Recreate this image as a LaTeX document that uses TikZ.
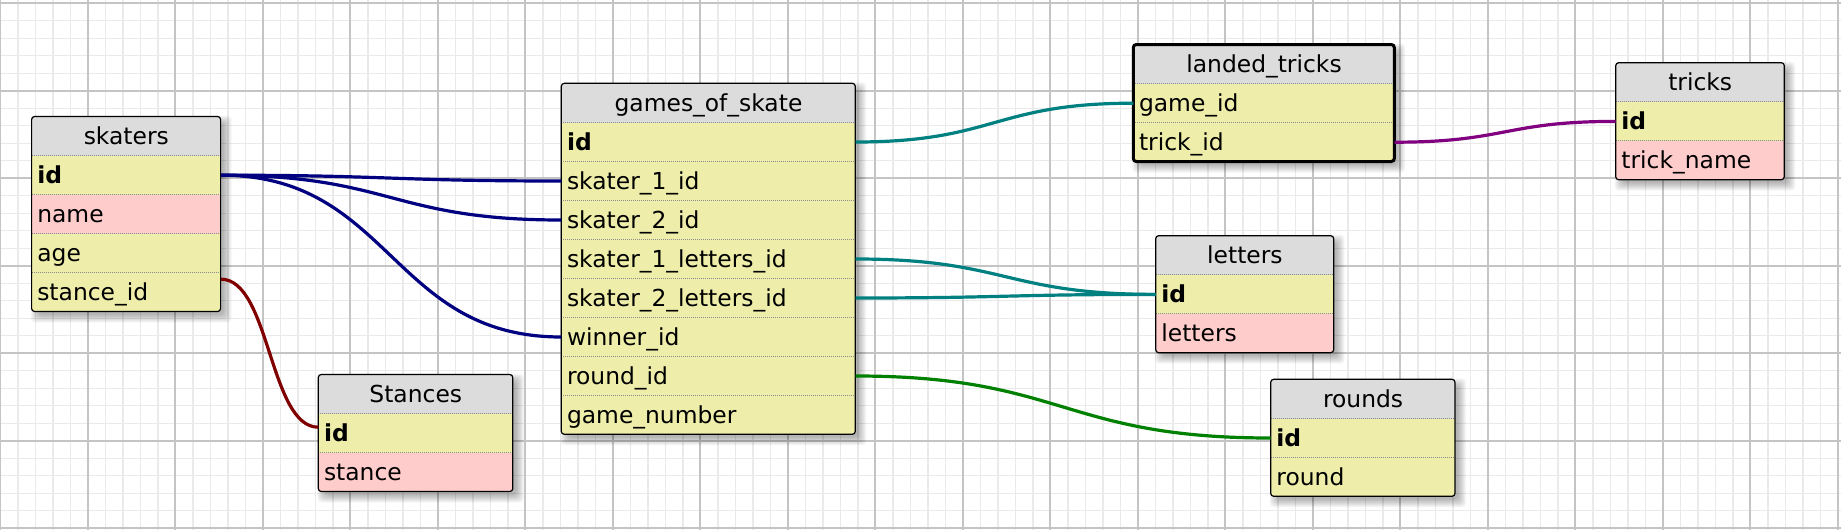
\documentclass[tikz,border=0pt]{standalone}
\usepackage{fontspec}
\setmainfont{DejaVu Sans}
\definecolor{hdrgray}{HTML}{DCDCDC}
\definecolor{yel}{HTML}{EEEEAA}
\definecolor{pnk}{HTML}{FFCCCC}
\definecolor{gridminor}{HTML}{EAEAEA}
\definecolor{gridmajor}{HTML}{C4C4C4}
\definecolor{sepgray}{HTML}{8C8C8C}
\definecolor{cnavy}{HTML}{000080}
\definecolor{cteal}{HTML}{008080}
\definecolor{cgreen}{HTML}{008000}
\definecolor{cpurple}{HTML}{800080}
\definecolor{cred}{HTML}{800000}
\tikzset{
  cell/.style={anchor=north west, inner xsep=5.5pt, inner ysep=0pt, minimum height=39pt,
    text height=19.5pt, text depth=2.5pt, font=\fontsize{23.4}{27}\selectfont},
  hdr/.style={cell, fill=hdrgray, align=center},
  fld/.style={cell, align=left},
  sep/.style={sepgray, line width=0.9pt, dash pattern=on 1pt off 1pt},
  tabline/.style={black, line width=1.2pt},
  tabthick/.style={black, line width=3pt},
  link/.style={line width=3.2pt},
  gminor/.style={gridminor, line width=1.4pt},
  gmajor/.style={gridmajor, line width=2pt},
}
% #1 border style, #2 name, #3 x, #4 y, #5 width, #6 rows incl. header, #7 title, #8 fields
\newcommand{\dbtab}[8][tabline]{%
  \pgfmathsetmacro{\tH}{39*#6}%
  \pgfmathsetmacro{\tW}{#5-11}%
  \foreach \ee in {-2,...,6}{\fill[black,opacity=0.035,rounded corners=4pt] ({#3+5-\ee},{#4+5-\ee}) rectangle ({#3+#5+5+\ee},{#4+\tH+5+\ee});}%
  \begin{scope}
    \clip[rounded corners=3pt] (#3,#4) rectangle ({#3+#5},{#4+\tH});
    \node[hdr, text width=\tW pt] (#2) at (#3,#4) {#7};
    \foreach \rk/\rt/\rc [count=\ri] in {#8}{%
      \node[fld, fill=\rc, text width=\tW pt] (#2-\rk) at ({#3},{#4+39*\ri}) {\rt};
      \draw[sep] ({#3},{#4+39*\ri}) -- ({#3+#5},{#4+39*\ri});
    }
  \end{scope}
  \draw[#1, rounded corners=3pt] (#3,#4) rectangle ({#3+#5},{#4+\tH});
}
\begin{document}
\begin{tikzpicture}[x=1pt,y=-1pt]
\useasboundingbox (0,0) rectangle (1841,530);
\fill[white] (0,0) rectangle (1841,530);
% grid
\foreach \j in {0,...,105}{\draw[gminor] ({0.3+17.5*\j},0) -- ({0.3+17.5*\j},530);}
\foreach \j in {0,...,30}{\draw[gminor] (0,{3.2+17.5*\j}) -- (1841,{3.2+17.5*\j});}
\foreach \j in {0,...,21}{\draw[gmajor] ({0.3+87.5*\j},0) -- ({0.3+87.5*\j},530);}
\foreach \j in {0,...,6}{\draw[gmajor] (0,{3.2+87.5*\j}) -- (1841,{3.2+87.5*\j});}
% tables
\dbtab{skaters}{31.6}{116.5}{189}{5}{skaters}{id/\textbf{id}/yel, name/name/pnk, age/age/yel, stance/stance\_id/yel}
\dbtab{stances}{318.3}{374.5}{194.5}{3}{Stances}{id/\textbf{id}/yel, stance/stance/pnk}
\dbtab{games}{561.3}{83.3}{294}{9}{games\_of\_skate}{id/\textbf{id}/yel, s1/skater\_1\_id/yel, s2/skater\_2\_id/yel, l1/skater\_1\_letters\_id/yel, l2/skater\_2\_letters\_id/yel, win/winner\_id/yel, round/round\_id/yel, num/game\_number/yel}
\dbtab[tabthick]{landed}{1133.3}{44.5}{261}{3}{landed\_tricks}{game/game\_id/yel, trick/trick\_id/yel}
\dbtab{letters}{1155.7}{235.7}{178}{3}{letters}{id/\textbf{id}/yel, letters/letters/pnk}
\dbtab{tricks}{1615.7}{62.7}{168.6}{3}{tricks}{id/\textbf{id}/yel, name/trick\_name/pnk}
\dbtab{rounds}{1270.7}{379.3}{184.3}{3}{rounds}{id/\textbf{id}/yel, round/round/yel}
% connectors
\draw[link,cnavy] (skaters-id.east) .. controls +(170,0) and +(-170,0) .. (games-s1.west);
\draw[link,cnavy] (skaters-id.east) .. controls +(170,0) and +(-170,0) .. (games-s2.west);
\draw[link,cnavy] (skaters-id.east) .. controls +(170,0) and +(-170,0) .. (games-win.west);
\draw[link,cred] ([yshift=13pt]skaters-stance.east) .. controls +(49,0) and +(-49,0) .. ([yshift=6pt]stances-id.west);
\draw[link,cteal] (games-id.east) .. controls +(139,0) and +(-139,0) .. (landed-game.west);
\draw[link,cteal] (games-l1.east) .. controls +(150,0) and +(-150,0) .. (letters-id.west);
\draw[link,cteal] (games-l2.east) .. controls +(150,0) and +(-150,0) .. (letters-id.west);
\draw[link,cgreen] (games-round.east) .. controls +(208,0) and +(-208,0) .. (rounds-id.west);
\draw[link,cpurple] (landed-trick.east) .. controls +(111,0) and +(-111,0) .. (tricks-id.west);
\end{tikzpicture}
\end{document}
